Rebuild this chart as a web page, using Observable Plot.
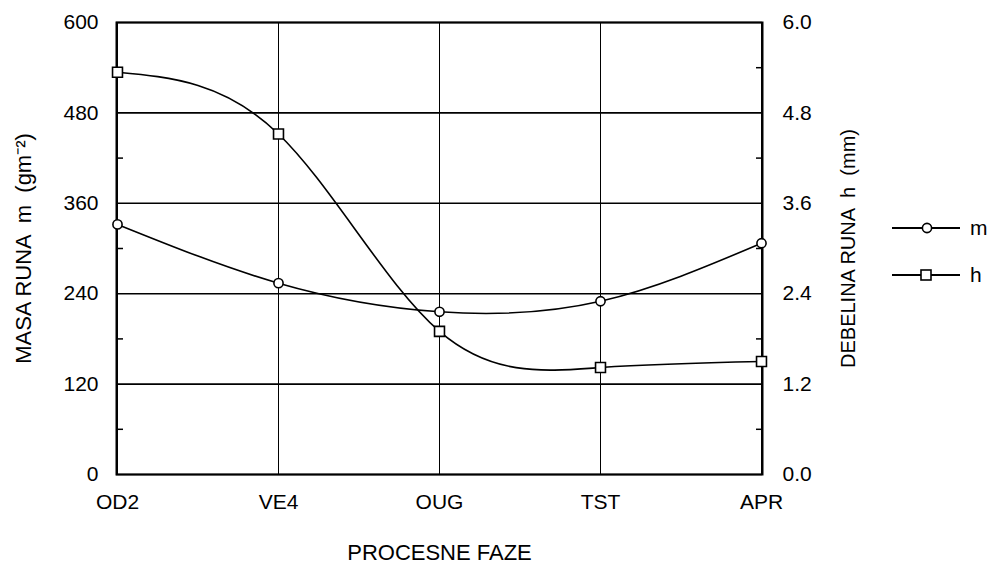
<!DOCTYPE html>
<html>
<head>
<meta charset="utf-8">
<script src="https://cdn.jsdelivr.net/npm/d3@7"></script>
<script src="https://cdn.jsdelivr.net/npm/@observablehq/plot@0.6"></script>
<style>
  html, body { margin: 0; padding: 0; background: #fff; }
  #wrap { position: relative; width: 992px; height: 563px; font-family: "Liberation Sans", Arial, sans-serif; }
  #legend { position: absolute; left: 888px; top: 212px; }
  #wrap svg [aria-label="y-axis label"] text, #wrap svg [aria-label="x-axis label"] text { font-size: 22px; }
</style>
</head>
<body>
<div id="wrap"></div>
<script>
// ---- data ----
const categories = ["OD2", "VE4", "OUG", "TST", "APR"];
const masa = [332, 254, 216, 230, 307];          // m (g m^-2), left axis
const debelina = [5.34, 4.52, 1.90, 1.42, 1.50];  // h (mm), right axis
const leftTicks = [0, 120, 240, 360, 480, 600];
const rightTicks = [0.0, 1.2, 2.4, 3.6, 4.8, 6.0];
const minorTicks = [60, 180, 300, 420, 540];
const seriesNames = ["m", "h"];

const hFactor = 100; // right-axis values drawn on the left scale (6.0 mm ↔ 600)
const mData = categories.map((c, i) => ({cat: c, v: masa[i]}));
const hData = categories.map((c, i) => ({cat: c, v: debelina[i] * hFactor}));

const font = "Liberation Sans, Arial, sans-serif";
const rightTitle = "DEBELINA RUNA  h  (mm)";

const chart = Plot.plot({
  width: 992,
  height: 563,
  marginLeft: 116,
  marginRight: 230,
  marginTop: 22,
  marginBottom: 89,
  style: {fontFamily: font, fontSize: "21px", background: "#fff", color: "#000"},
  x: {type: "point", domain: categories, padding: 0},
  y: {domain: [0, 600]},
  marks: [
    Plot.gridY(leftTicks, {stroke: "#000", strokeOpacity: 1, strokeWidth: 1.6}),
    Plot.gridX(categories, {stroke: "#000", strokeOpacity: 1, strokeWidth: 1}),
    Plot.frame({stroke: "#000", strokeWidth: 2}),
    Plot.axisY(leftTicks, {anchor: "left", tickSize: 0, tickPadding: 18,
      label: "MASA RUNA  m  (gm⁻²)", labelAnchor: "center", labelArrow: "none", labelOffset: 101}),
    Plot.axisY(rightTicks.map(d => d * hFactor), {anchor: "right", tickSize: 0, tickPadding: 20,
      tickFormat: d => (d / hFactor).toFixed(1),
      label: rightTitle, labelAnchor: "center", labelArrow: "none", labelOffset: 92}),
    Plot.axisY(minorTicks, {anchor: "left", tickSize: -7, strokeWidth: 1.5, tickFormat: () => "", label: null}),
    Plot.axisY(minorTicks, {anchor: "right", tickSize: -7, strokeWidth: 1.5, tickFormat: () => "", label: null}),
    Plot.axisX(categories, {anchor: "bottom", tickSize: 0, tickPadding: 20,
      label: "PROCESNE FAZE", labelAnchor: "center", labelArrow: "none", labelOffset: 85}),
    Plot.line(mData, {x: "cat", y: "v", curve: "natural", stroke: "#000", strokeWidth: 1.6}),
    Plot.line(hData, {x: "cat", y: "v", curve: "natural", stroke: "#000", strokeWidth: 1.6}),
    Plot.dot(mData, {x: "cat", y: "v", symbol: "circle", r: 4.6, fill: "#fff", stroke: "#000", strokeWidth: 1.6}),
    Plot.dot(hData, {x: "cat", y: "v", symbol: "square", r: 5.6, fill: "#fff", stroke: "#000", strokeWidth: 1.6})
  ]
});
document.getElementById("wrap").appendChild(chart);
d3.select(chart).selectAll('[aria-label="y-axis label"] text')
  .filter(function() { return this.textContent === rightTitle; })
  .style("font-size", "20px");

// legend (outside the SVG plot area)
const legend = d3.select("#wrap").append("div").attr("id", "legend");
const lsvg = legend.append("svg").attr("width", 104).attr("height", 80)
  .style("font-family", font).style("font-size", "21px");
seriesNames.forEach((name, i) => {
  const y = 16 + i * 47;
  lsvg.append("line").attr("x1", 4).attr("x2", 72).attr("y1", y).attr("y2", y)
    .attr("stroke", "#000").attr("stroke-width", 1.8);
  if (name === "m") {
    lsvg.append("circle").attr("cx", 39).attr("cy", y).attr("r", 4.6)
      .attr("fill", "#fff").attr("stroke", "#000").attr("stroke-width", 1.6);
  } else {
    lsvg.append("rect").attr("x", 33).attr("y", y - 5).attr("width", 10).attr("height", 10)
      .attr("fill", "#fff").attr("stroke", "#000").attr("stroke-width", 1.6);
  }
  lsvg.append("text").attr("x", 82).attr("y", y).attr("dy", "0.35em").text(name);
});
</script>
</body>
</html>
